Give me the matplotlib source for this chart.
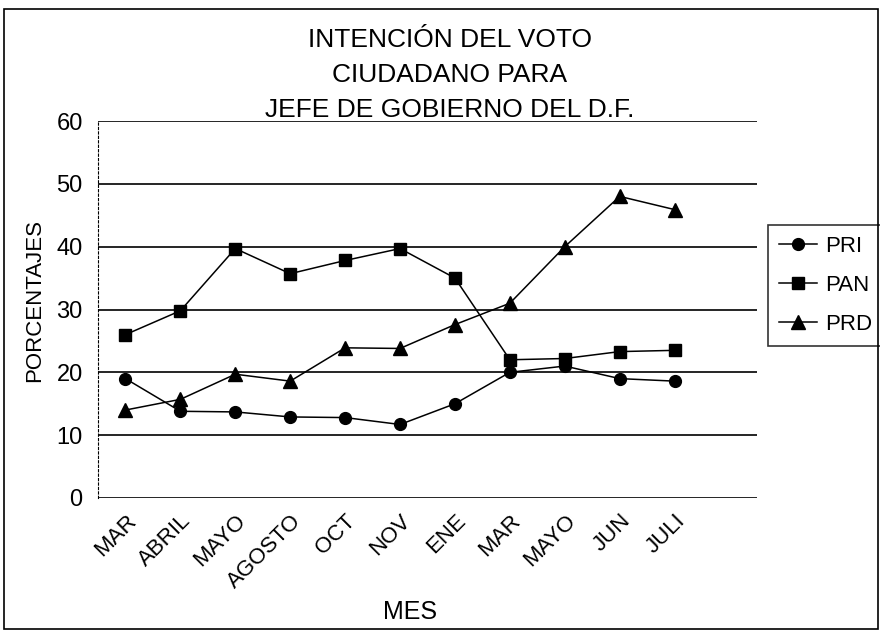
import matplotlib
matplotlib.use('Agg')
import matplotlib.pyplot as plt
from matplotlib.patches import Rectangle
import numpy as np

# data
meses = ['MAR', 'ABRIL', 'MAYO', 'AGOSTO', 'OCT', 'NOV', 'ENE', 'MAR', 'MAYO', 'JUN', 'JULI']
pri = [19.0, 13.8, 13.7, 12.9, 12.8, 11.7, 15.0, 20.0, 21.0, 19.0, 18.6]
pan = [26.0, 29.8, 39.7, 35.7, 37.8, 39.7, 35.0, 22.0, 22.2, 23.3, 23.5]
prd = [14.0, 15.7, 19.7, 18.6, 23.9, 23.8, 27.6, 31.0, 40.0, 48.0, 45.9]
y_ticks = [0, 10, 20, 30, 40, 50, 60]
titulo = ['INTENCIÓN DEL VOTO', 'CIUDADANO PARA', 'JEFE DE GOBIERNO DEL D.F.']

plt.rcParams['font.family'] = ['Liberation Sans', 'DejaVu Sans']

fig = plt.figure(figsize=(8.8, 6.35), dpi=100)
ax = fig.add_axes([98 / 880, 1 - 498 / 635, (757 - 98) / 880, (498 - 121) / 635])

x = np.arange(len(meses))
style = dict(color='black', linewidth=1.1, clip_on=False)
ax.plot(x, pri, marker='o', markersize=8.5, label='PRI', **style)
ax.plot(x, pan, marker='s', markersize=9, label='PAN', **style)
ax.plot(x, prd, marker='^', markersize=10, label='PRD', **style)

ax.set_xlim(-0.5, 11.5)
ax.set_ylim(0, 60)
ax.set_yticks(y_ticks)
ax.set_yticklabels([str(v) for v in y_ticks], fontsize=17)
ax.set_xticks(x)
ax.set_xticklabels(meses, fontsize=16, rotation=45, ha='right', rotation_mode='anchor')
ax.tick_params(axis='y', length=0, pad=11)
ax.tick_params(axis='x', length=0, pad=9)

# horizontal grid lines
for v in y_ticks:
    ax.axhline(v, color='black', linewidth=1.2, zorder=0.5)

for side in ['top', 'right', 'bottom']:
    ax.spines[side].set_visible(False)
ax.spines['left'].set_linestyle((0, (2, 2)))
ax.spines['left'].set_linewidth(0.8)

# titles and axis names
for i, linea in enumerate(titulo):
    fig.text(450 / 880, 1 - (47 + 35 * i) / 635, linea, ha='center', va='baseline', fontsize=19)
fig.text(410 / 880, 1 - 612 / 635, 'MES', ha='center', va='center', fontsize=18)
fig.text(35 / 880, 1 - 300 / 635, 'PORCENTAJES', ha='center', va='center', rotation=90, fontsize=16)

leg = ax.legend(loc='upper left', bbox_to_anchor=(768 / 880, 1 - 225 / 635),
                bbox_transform=fig.transFigure, borderaxespad=0, fontsize=16,
                frameon=True, fancybox=False, handlelength=1.7, handletextpad=0.35,
                labelspacing=0.8, borderpad=0.5)
leg.get_frame().set_edgecolor('black')
leg.get_frame().set_linewidth(1.2)

# outer border of the chart
fig.patches.append(Rectangle((4 / 880, 1 - 629 / 635), 874 / 880, 620 / 635,
                             transform=fig.transFigure, fill=False,
                             edgecolor='black', linewidth=1.2))

plt.savefig('out.png', dpi=100)
